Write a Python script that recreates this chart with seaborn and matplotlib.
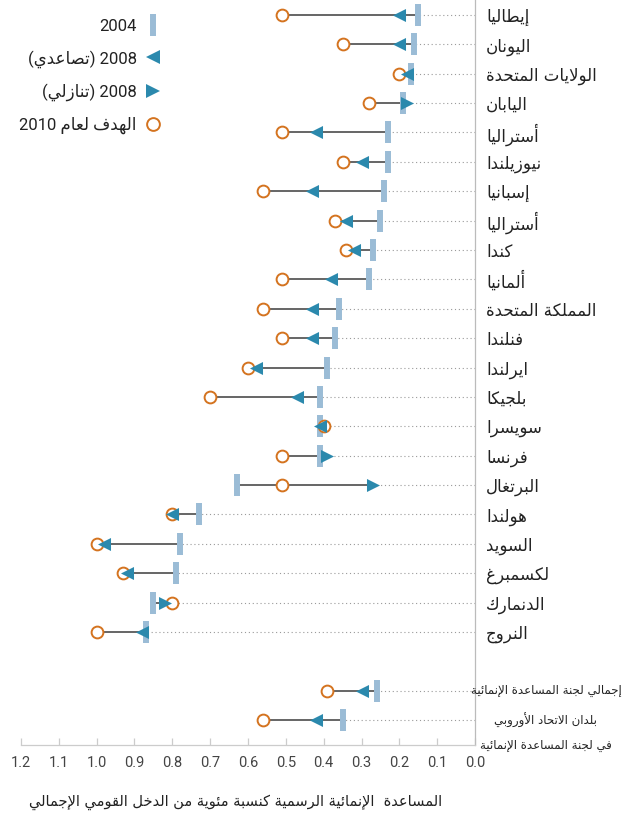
import matplotlib
matplotlib.use('Agg')
import matplotlib.pyplot as plt
from matplotlib.lines import Line2D
import pandas as pd
import seaborn as sns

# data (ODA as % of GNI)
countries = ['إيطاليا', 'اليونان', 'الولايات المتحدة', 'اليابان', 'أستراليا', 'نيوزيلندا',
             'إسبانيا', 'أستراليا', 'كندا', 'ألمانيا', 'المملكة المتحدة', 'فنلندا',
             'ايرلندا', 'بلجيكا', 'سويسرا', 'فرنسا', 'البرتغال', 'هولندا', 'السويد',
             'لكسمبرغ', 'الدنمارك', 'النروج']
oda_2004 = [0.15, 0.16, 0.17, 0.19, 0.23, 0.23, 0.24, 0.25, 0.27, 0.28, 0.36, 0.37,
            0.39, 0.41, 0.41, 0.41, 0.63, 0.73, 0.78, 0.79, 0.85, 0.87]
oda_2008 = [0.20, 0.20, 0.18, 0.18, 0.42, 0.30, 0.43, 0.34, 0.32, 0.38, 0.43, 0.43,
            0.58, 0.47, 0.41, 0.39, 0.27, 0.80, 0.98, 0.92, 0.82, 0.88]
target_2010 = [0.51, 0.35, 0.20, 0.28, 0.51, 0.35, 0.56, 0.37, 0.34, 0.51, 0.56, 0.51,
               0.60, 0.70, 0.40, 0.51, 0.51, 0.80, 1.00, 0.93, 0.80, 1.00]

aggregates = ['إجمالي لجنة المساعدة الإنمائية', 'بلدان الاتحاد الأوروبي']
aggregate_note = 'في لجنة المساعدة الإنمائية'
agg_2004 = [0.26, 0.35]
agg_2008 = [0.30, 0.42]
agg_target = [0.39, 0.56]

xticks = [1.2, 1.1, 1.0, 0.9, 0.8, 0.7, 0.6, 0.5, 0.4, 0.3, 0.2, 0.1, 0.0]
xlabel = 'المساعدة  الإنمائية الرسمية كنسبة مئوية من الدخل القومي الإجمالي'
leg_up = 'تصاعدي'
leg_down = 'تنازلي'
leg_target = 'الهدف لعام'

# --- minimal Arabic shaping (matplotlib has no shaping / bidi) ---
FORMS = {}
_code = 0xFE80
for ch, n in zip('ءآأؤإئابةتثجحخدذرزسشصضطظعغفقكلمنهوىي',
                 [1, 2, 2, 2, 2, 4, 2, 4, 2, 4, 4, 4, 4, 4, 2, 2, 2, 2, 4, 4, 4, 4, 4, 4,
                  4, 4, 4, 4, 4, 4, 4, 4, 4, 2, 2, 4]):
    FORMS[ch] = (_code, n)
    _code += n
LAM_ALEF = {'آ': 0xFEF5, 'أ': 0xFEF7, 'إ': 0xFEF9, 'ا': 0xFEFB}


def ar(text):
    out = []
    i = 0
    while i < len(text):
        c = text[i]
        prev = i > 0 and text[i - 1] in FORMS and FORMS[text[i - 1]][1] == 4
        if c == 'ل' and i + 1 < len(text) and text[i + 1] in LAM_ALEF:
            out.append(chr(LAM_ALEF[text[i + 1]] + int(prev)))
            i += 2
            continue
        if c not in FORMS:
            out.append(c)
            i += 1
            continue
        base, n = FORMS[c]
        nxt = n == 4 and i + 1 < len(text) and text[i + 1] in FORMS
        if n == 1:
            form = 0
        elif n == 2:
            form = int(prev)
        else:
            form = int(prev) + 2 * int(nxt)
        out.append(chr(base + form))
        i += 1
    return ''.join(reversed(out))


bar_c = '#9bbcd6'
tri_c = '#2b89ad'
circ_c = '#d4731f'

rows = list(range(len(countries))) + [len(countries) + 1, len(countries) + 2]
df = pd.DataFrame({
    'name': countries + aggregates,
    'row': rows,
    'y2004': oda_2004 + agg_2004,
    'y2008': oda_2008 + agg_2008,
    'goal': target_2010 + agg_target,
})
df['lo'] = df[['y2004', 'y2008', 'goal']].min(axis=1)
df['hi'] = df[['y2004', 'y2008', 'goal']].max(axis=1)
df['up'] = df['y2008'] >= df['y2004']

sns.set_theme(style='white')
plt.rcParams['font.family'] = ['DejaVu Sans']

fig = plt.figure(figsize=(6.28, 8.21), dpi=100)
ax = fig.add_axes([21 / 628, 1 - 745 / 821, 454 / 628, 745 / 821])

ax.hlines(df['row'], 0, df['lo'], colors='#9a9a9a', linestyles=(0, (1, 2.5)), lw=0.8, zorder=1)
ax.hlines(df['row'], df['lo'], df['hi'], colors='#3c3c3c', lw=1.1, zorder=2)
ax.plot(df['y2004'], df['row'], ls='none', marker='|', ms=16.5, mew=4.3, color=bar_c, zorder=3)
sns.scatterplot(data=df, x='goal', y='row', marker='o', s=72, color='white',
                edgecolor=circ_c, linewidth=1.4, ax=ax, zorder=4)
sns.scatterplot(data=df[df['up']], x='y2008', y='row', marker='<', s=88, color=tri_c,
                linewidth=0, ax=ax, zorder=5)
sns.scatterplot(data=df[~df['up']], x='y2008', y='row', marker='>', s=88, color=tri_c,
                linewidth=0, ax=ax, zorder=5)

ax.set_xlim(1.2, 0)
ax.set_ylim(24.85, -0.51)
ax.set_xticks(xticks)
ax.set_xticklabels([f'{t:.1f}' for t in xticks], family=['Roboto', 'DejaVu Sans'])
ax.yaxis.tick_right()
ax.set_yticks(list(range(len(countries))))
ax.set_yticklabels([ar(n) for n in countries])
ax.set_ylabel('')
ax.set_xlabel(ar(xlabel), fontsize=10.5, color='#222222')
ax.xaxis.set_label_coords((236 - 21) / 454, -0.066)

for side in ['left', 'top']:
    ax.spines[side].set_visible(False)
ax.spines['right'].set_color('#bbbbbb')
ax.spines['right'].set_linewidth(0.9)
ax.spines['bottom'].set_color('#cccccc')
ax.spines['bottom'].set_linewidth(0.9)
ax.tick_params(axis='x', direction='in', length=5, width=0.9, color='#cccccc',
               labelcolor='#444444', labelsize=10.5, pad=8, bottom=True)
ax.tick_params(axis='y', length=0, pad=8, labelsize=12, labelcolor='#222222')

# aggregate labels, centred to the right of the axis
ytr = ax.get_yaxis_transform()
lab_x = (546 - 21) / 454
for name, r in zip(aggregates, rows[-2:]):
    ax.text(lab_x, r, ar(name), transform=ytr, ha='center', va='center',
            fontsize=8.5, color='#222222', clip_on=False)
ax.text(lab_x, 24.85, ar(aggregate_note), transform=ytr, ha='center', va='center',
        fontsize=8.5, color='#222222', clip_on=False)

handles = [
    Line2D([], [], ls='none', marker='|', ms=16.5, mew=4.3, color=bar_c),
    Line2D([], [], ls='none', marker='<', ms=9.4, mew=0, color=tri_c),
    Line2D([], [], ls='none', marker='>', ms=9.4, mew=0, color=tri_c),
    Line2D([], [], ls='none', marker='o', ms=9.2, mfc='white', mec=circ_c, mew=1.4),
]
labels = ['2004', '(' + ar(leg_up) + ') 2008', '(' + ar(leg_down) + ') 2008',
          '2010 ' + ar(leg_target)]
leg = ax.legend(handles, labels, markerfirst=False, frameon=False, loc='upper right',
                bbox_to_anchor=(160 / 628, 1 - 19 / 821), bbox_transform=fig.transFigure,
                borderaxespad=0, borderpad=0, labelspacing=0.95, handlelength=0.9,
                handletextpad=0.5, prop={'family': ['Roboto', 'DejaVu Sans'], 'size': 12})
for t in leg.get_texts():
    t.set_color('#222222')

plt.savefig('out.png', dpi=100)
